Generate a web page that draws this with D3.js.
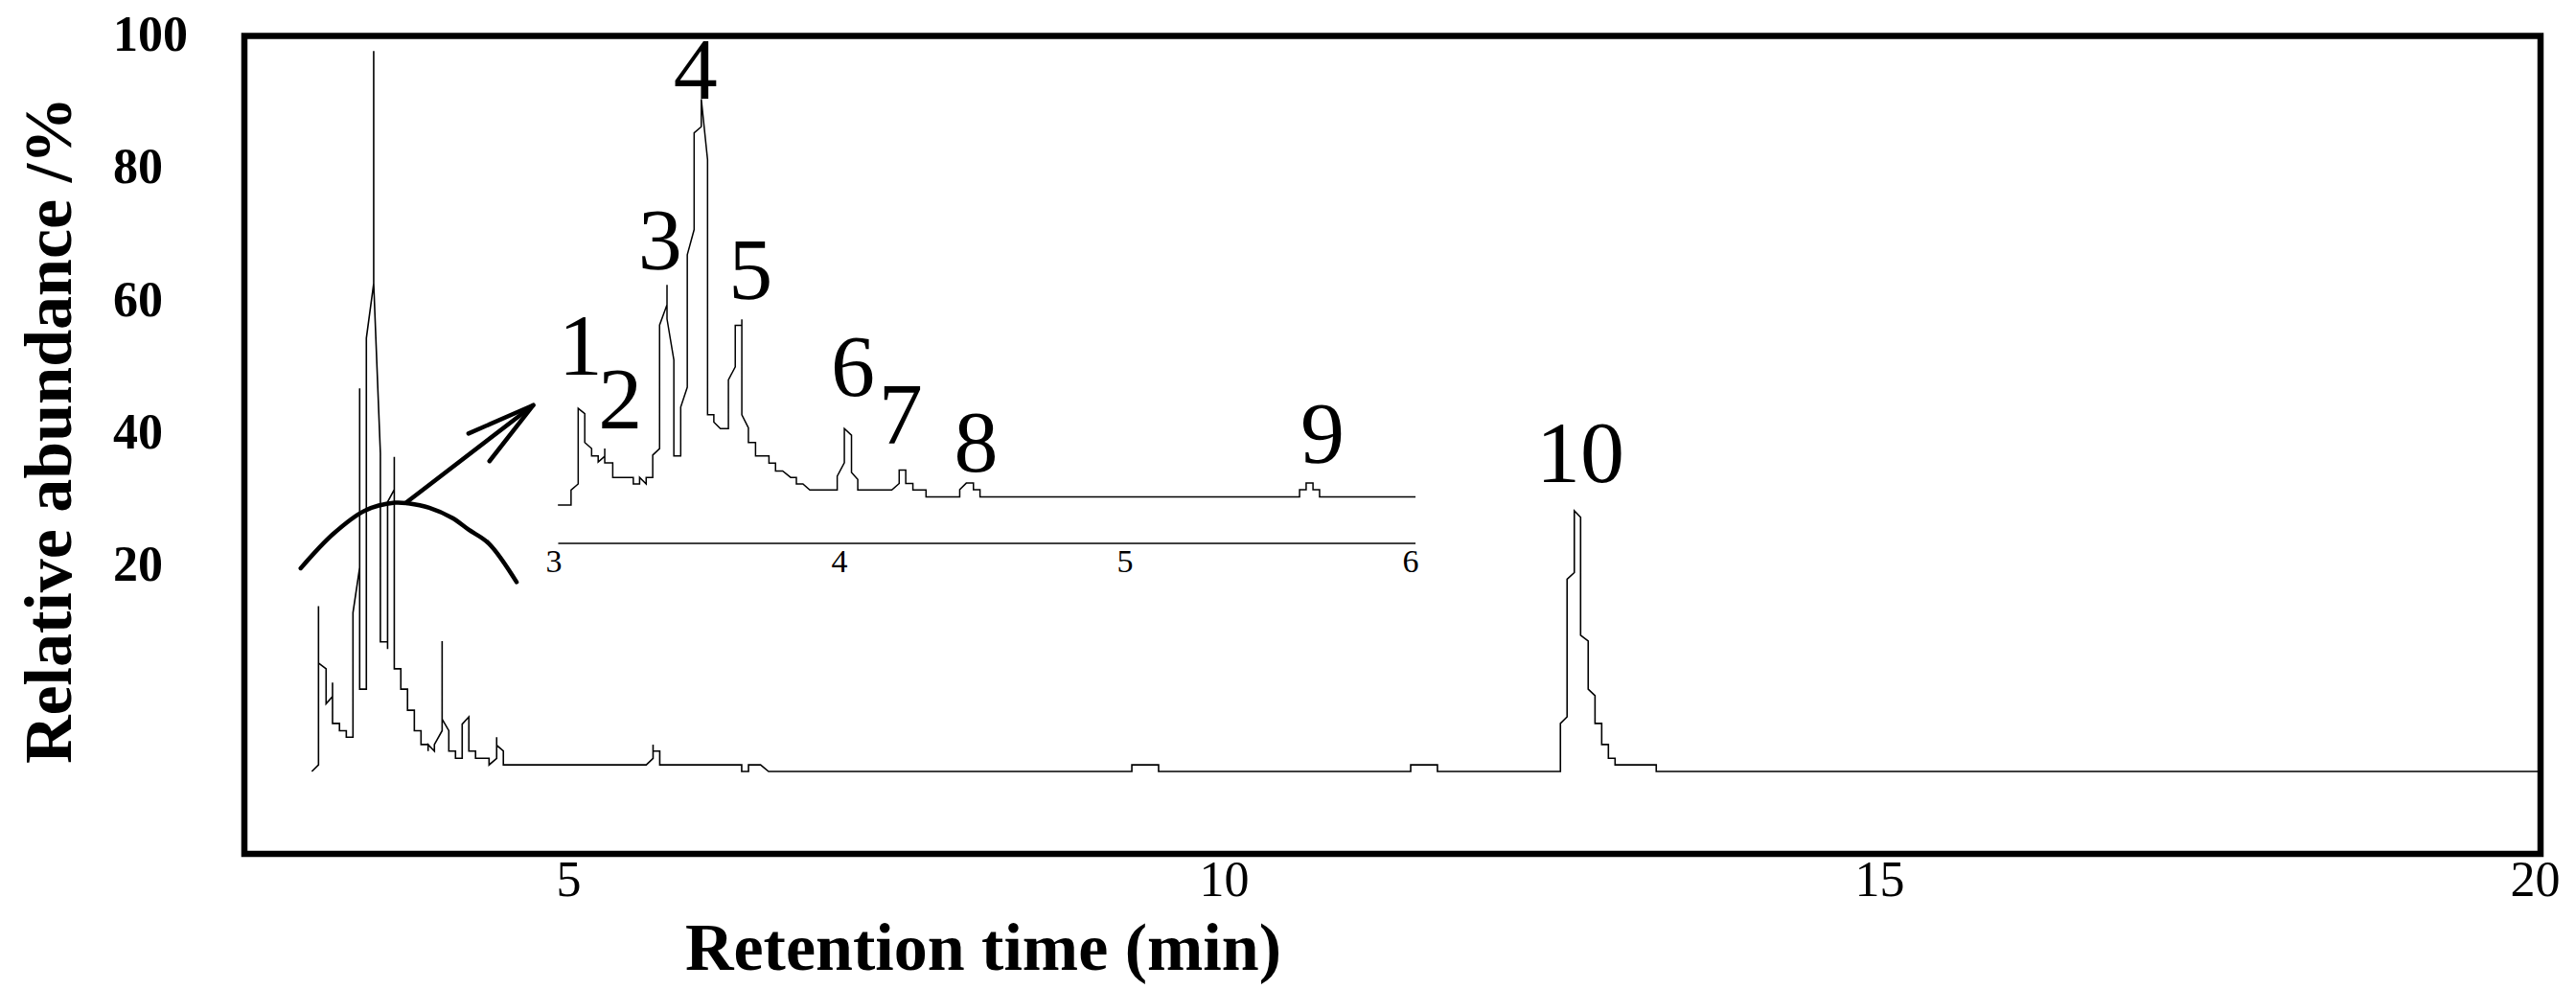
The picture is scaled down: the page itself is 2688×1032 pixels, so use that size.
<!DOCTYPE html>
<html>
<head>
<meta charset="utf-8">
<script src="https://cdn.jsdelivr.net/npm/d3@7"></script>
<style>
  html, body { margin: 0; padding: 0; background: #fff; }
  svg { display: block; }
  text { font-family: "Liberation Serif", "Times New Roman", serif; fill: #000; }
</style>
</head>
<body>
<div id="chart"></div>
<script>
// main chromatogram (retention time in min, relative abundance in %)
var mainTime = [3.040,3.091,3.091,3.091,3.149,3.149,3.198,3.198,3.198,3.251,3.251,3.303,3.303,3.354,3.354,
  3.405,3.405,3.405,3.456,3.456,3.512,3.512,3.512,3.563,3.563,3.618,3.618,3.618,3.669,3.669,3.669,
  3.719,3.719,3.770,3.770,3.822,3.822,3.873,3.873,3.927,3.927,3.927,3.975,3.975,4.034,4.034,4.034,
  4.085,4.085,4.136,4.136,4.187,4.187,4.238,4.238,4.289,4.289,4.392,4.392,4.450,4.450,4.450,4.501,4.501,
  5.591,5.643,5.643,5.643,5.694,5.694,6.319,6.319,6.371,6.371,6.463,6.524,9.295,9.295,9.499,9.499,
  11.422,11.422,11.626,11.626,12.564,12.564,12.615,12.615,12.670,12.670,12.718,12.718,12.776,12.776,
  12.828,12.828,12.879,12.879,12.930,12.930,12.981,12.981,13.295,13.295,20.03];
var mainAbund = [0,0.9,22.7,14.9,14.1,9.3,10.3,12.2,6.6,6.6,5.6,5.6,4.7,4.7,21.8,
  28.0,52.6,11.3,11.3,59.5,67.0,98.9,67.0,43.7,17.8,17.8,16.8,37.0,38.7,43.2,14.1,
  14.1,11.3,11.3,8.4,8.4,5.6,5.6,3.7,3.7,2.8,3.7,2.8,3.7,5.6,17.9,7.2,
  5.6,2.8,2.8,1.8,1.8,6.5,7.5,2.8,2.8,1.8,1.8,0.9,1.8,4.7,3.6,2.8,0.9,
  0.9,1.8,3.7,2.8,2.8,0.9,0.9,0,0,0.9,0.9,0,0,0.9,0.9,0,
  0,0.9,0.9,0,0,6.6,7.5,26.4,27.3,35.8,34.9,18.7,17.9,11.3,
  10.4,6.6,6.6,3.7,3.7,1.8,1.8,0.9,0.9,0,0];

// inset: enlarged 3-6 min window
var insetTime = [3.014,3.060,3.060,3.085,3.085,3.108,3.108,3.132,3.132,3.155,3.155,3.178,3.178,3.178,
  3.206,3.206,3.278,3.278,3.300,3.300,3.323,3.323,3.346,3.346,3.370,3.370,3.396,3.396,3.396,
  3.420,3.420,3.444,3.444,3.467,3.467,3.491,3.491,3.516,3.516,3.538,3.538,3.560,3.560,3.583,
  3.611,3.611,3.635,3.635,3.658,3.658,3.658,3.681,3.681,3.706,3.706,3.753,3.753,3.776,3.776,
  3.801,3.829,3.849,3.849,3.872,3.896,3.992,3.992,4.017,4.017,4.042,4.042,4.064,4.064,
  4.183,4.209,4.209,4.232,4.232,4.257,4.257,4.303,4.303,4.421,4.421,4.444,4.469,4.469,4.492,4.492,
  5.611,5.611,5.634,5.634,5.658,5.658,5.681,5.681,6.017];
var insetAbund = [0,0,3.7,5.2,23.8,22.5,15.4,13.9,12.1,12.1,10.6,12.0,13.9,10.4,
  10.4,6.8,6.8,5.2,5.2,6.8,5.2,6.8,6.8,12.3,13.9,44.3,49.3,54.2,45.8,
  35.7,12.1,12.1,24.1,29.0,61.6,67.8,91.6,93.1,99.9,85.0,22.2,22.2,20.4,18.8,
  18.8,30.8,34.0,44.2,44.2,45.7,22.2,19.0,15.4,15.4,12.1,12.1,10.3,10.3,8.4,
  8.4,6.8,6.8,5.2,5.2,3.7,3.7,7.1,10.4,18.8,17.2,8.0,6.3,3.7,
  3.7,5.3,8.6,8.6,5.3,5.3,3.7,3.7,2.0,2.0,3.8,5.4,5.4,3.8,3.8,2.0,
  2.0,3.8,3.8,5.4,5.4,3.8,3.8,2.0,2.0];

// peak numbers
var peakNames = ["1","2","3","4","5","6","7","8","9"];
var peakTime  = [3.093,3.232,3.372,3.496,3.689,4.047,4.214,4.478,5.691];
var peakAbund = [32.1,18.8,58.0,100.1,50.7,26.9,15.1,8.3,10.4];
var peak10 = {name: "10", t: 12.716, a: 39.7};

// tick labels
var xTicks = [5,10,15,20];
var yTicks = [20,40,60,80,100];
var insetTicks = [3,4,5,6];
var insetAxisRange = [3.015,6.017];

// zoom marker: arc over the early peaks and arrow to the inset
var arcTime  = [2.955,3.202,3.443,3.673,3.776,3.936,4.112,4.236,4.390,4.602];
var arcAbund = [27.9,32.6,35.8,36.9,36.8,36.2,34.8,33.2,31.3,26.0];
var arrowTime  = [3.759,4.730];
var arrowAbund = [36.9,50.3];
var headTime  = [4.235,4.730,4.395];
var headAbund = [46.4,50.3,42.6];

var W = 2688, H = 1032;
var svg = d3.select("#chart").append("svg").attr("width", W).attr("height", H);
svg.append("rect").attr("width", W).attr("height", H).attr("fill", "#fff");

var xMain = d3.scaleLinear().domain([5,20]).range([593.5,2645.5]);
var yMain = d3.scaleLinear().domain([0,100]).range([805,45]);
var yTick = d3.scaleLinear().domain([20,100]).range([606,53]);
var xIn = d3.scaleLinear().domain([3,6]).range([578,1472]);
var yIn = d3.scaleLinear().domain([0,100]).range([527,103]);

// frame
svg.append("rect")
  .attr("x", 255).attr("y", 37.5).attr("width", 2396).attr("height", 853.5)
  .attr("fill", "none").attr("stroke", "#000").attr("stroke-width", 6.5);

// x tick labels
svg.selectAll(".xt").data(xTicks).enter().append("text")
  .attr("x", function(d){ return xMain(d); }).attr("y", 935)
  .attr("text-anchor", "middle").attr("font-size", 52)
  .text(function(d){ return d; });

// y tick labels (bold, drawn left of frame)
svg.selectAll(".yt").data(yTicks).enter().append("text")
  .attr("x", 118).attr("y", function(d){ return yTick(d); })
  .attr("font-size", 52).attr("font-weight", "bold")
  .text(function(d){ return d; });

// axis titles
svg.append("text").attr("x", 1026).attr("y", 1012)
  .attr("text-anchor", "middle").attr("font-size", 70).attr("font-weight", "bold")
  .text("Retention time (min)");
svg.append("text").attr("transform", "translate(74,449) rotate(-90)")
  .attr("text-anchor", "middle").attr("font-size", 70).attr("font-weight", "bold")
  .text("Relative abundance /%");

// main trace
var mainPts = mainTime.map(function(t, i){ return {t: t, a: mainAbund[i]}; });
var mainLine = d3.line().x(function(d){ return xMain(d.t); }).y(function(d){ return yMain(d.a); });
svg.append("path").datum(mainPts).attr("d", mainLine)
  .attr("fill", "none").attr("stroke", "#000").attr("stroke-width", 1.6);

svg.append("text").attr("x", xMain(peak10.t)).attr("y", yMain(peak10.a))
  .attr("text-anchor", "middle").attr("font-size", 92).text(peak10.name);

// arc + arrow
var arcPts = arcTime.map(function(t, i){ return {t: t, a: arcAbund[i]}; });
svg.append("path").datum(arcPts)
  .attr("d", d3.line().curve(d3.curveCatmullRom).x(function(d){ return xMain(d.t); }).y(function(d){ return yMain(d.a); }))
  .attr("fill", "none").attr("stroke", "#000").attr("stroke-width", 4.5).attr("stroke-linecap", "round");
var arrowPts = arrowTime.map(function(t, i){ return {t: t, a: arrowAbund[i]}; });
var headPts = headTime.map(function(t, i){ return {t: t, a: headAbund[i]}; });
[arrowPts, headPts].forEach(function(p){
  svg.append("path").datum(p).attr("d", mainLine)
    .attr("fill", "none").attr("stroke", "#000").attr("stroke-width", 4.5)
    .attr("stroke-linecap", "round").attr("stroke-linejoin", "miter");
});

// inset axis
svg.append("line")
  .attr("x1", xIn(insetAxisRange[0])).attr("x2", xIn(insetAxisRange[1]))
  .attr("y1", 567).attr("y2", 567).attr("stroke", "#000").attr("stroke-width", 1.6);
svg.selectAll(".it").data(insetTicks).enter().append("text")
  .attr("x", function(d){ return xIn(d); }).attr("y", 597)
  .attr("text-anchor", "middle").attr("font-size", 34)
  .text(function(d){ return d; });

// inset trace
var insetPts = insetTime.map(function(t, i){ return {t: t, a: insetAbund[i]}; });
svg.append("path").datum(insetPts)
  .attr("d", d3.line().x(function(d){ return xIn(d.t); }).y(function(d){ return yIn(d.a); }))
  .attr("fill", "none").attr("stroke", "#000").attr("stroke-width", 1.5);

svg.selectAll(".pk").data(peakNames).enter().append("text")
  .attr("x", function(d, i){ return xIn(peakTime[i]); })
  .attr("y", function(d, i){ return yIn(peakAbund[i]); })
  .attr("text-anchor", "middle").attr("font-size", 92)
  .text(function(d){ return d; });
</script>
</body>
</html>
